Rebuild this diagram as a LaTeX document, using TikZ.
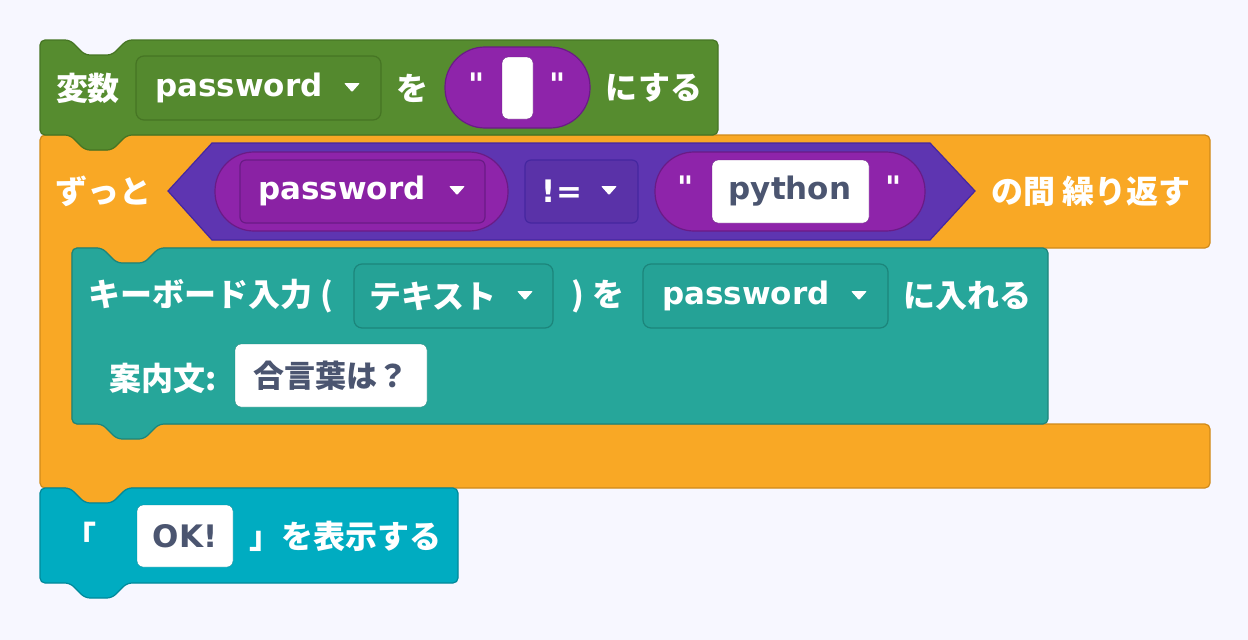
\documentclass[tikz,border=0pt]{standalone}
\usepackage{fontspec}
\setmainfont{Noto Sans CJK JP}
\newfontfamily\lat{DejaVu Sans}
\begin{document}
\begin{tikzpicture}[x=1pt,y=-1pt,
  lbl/.style={text=white,font=\fontsize{32}{34}\selectfont\bfseries,inner sep=0pt},
  wlbl/.style={text=txt,font=\fontsize{31}{34}\selectfont\bfseries,inner sep=0pt},
  ll/.style={lbl,font=\lat\fontsize{31}{34}\selectfont\bfseries},
  wll/.style={wlbl,font=\lat\fontsize{31}{34}\selectfont\bfseries}]
\definecolor{gr}{HTML}{568C2F}\definecolor{grd}{HTML}{467524}\definecolor{grb}{HTML}{54892E}
\definecolor{og}{HTML}{F9A825}\definecolor{ogd}{HTML}{D08A1A}
\definecolor{tl}{HTML}{26A69A}\definecolor{tld}{HTML}{1C857B}\definecolor{tlb}{HTML}{25A296}
\definecolor{cy}{HTML}{00ACC1}\definecolor{cyd}{HTML}{00899A}
\definecolor{pu}{HTML}{5E35B1}\definecolor{pud}{HTML}{4527A0}\definecolor{pub}{HTML}{5A32A8}
\definecolor{mg}{HTML}{8E24AA}\definecolor{mgd}{HTML}{6A1B86}\definecolor{mgb}{HTML}{8A22A4}
\definecolor{txt}{HTML}{4B5570}
\fill[white!97!blue] (0,0) rectangle (1248,640);
\useasboundingbox (0,0) rectangle (1248,640);
\newcommand\dd[2]{\fill[white,rounded corners=1] (#1-8,#2-4) -- (#1+8,#2-4) -- (#1,#2+5) -- cycle;}
% orange C
\draw[fill=og,draw=ogd,line width=1.2,rounded corners=5] (40,135) -- (70,135) -- (85,150) -- (112,150) -- (127,135) -- (1210,135) -- (1210,248) -- (159,248) -- (144,263) -- (117,263) -- (102,248) -- (72,248) -- (72,424) -- (1210,424) -- (1210,488) -- (127,488) -- (112,503) -- (85,503) -- (70,488) -- (40,488) -- cycle;
% green
\draw[fill=gr,draw=grd,line width=1.2,rounded corners=5] (40,40) -- (70,40) -- (85,55) -- (112,55) -- (127,40) -- (718,40) -- (718,135) -- (127,135) -- (112,150) -- (85,150) -- (70,135) -- (40,135) -- cycle;
% teal
\draw[fill=tl,draw=tld,line width=1.2,rounded corners=5] (72,248) -- (102,248) -- (117,263) -- (144,263) -- (159,248) -- (1048,248) -- (1048,424) -- (159,424) -- (144,439) -- (117,439) -- (102,424) -- (72,424) -- cycle;
% cyan
\draw[fill=cy,draw=cyd,line width=1.2,rounded corners=5] (40,488) -- (70,488) -- (85,503) -- (112,503) -- (127,488) -- (458,488) -- (458,583) -- (127,583) -- (112,598) -- (85,598) -- (70,583) -- (40,583) -- cycle;
% green content
\node[lbl] (v1) at (88,88) {変数};
\draw[fill=grb,draw=grd,line width=1.2,rounded corners=8] (136,56) rectangle (381,120);
\node[ll] (v2) at (239,88) {password}; \dd{352}{87}
\node[lbl] (v3) at (412,88) {を};
\draw[fill=mg,draw=mgd,line width=1.2,rounded corners=40] (445,47) rectangle (590,128);
\node[ll] (q1) at (477,84) {"}; \node[ll] (q2) at (558,84) {"};
\draw[fill=white,draw=mgd,rounded corners=6] (502,57) rectangle (533,119);
\node[lbl] (v4) at (654,88) {にする};
% orange content
\node[lbl] (o1) at (103,191) {ずっと};
\draw[fill=pu,draw=pud,line width=1.2] (168,191) -- (212,143) -- (930,143) -- (975,191) -- (930,240) -- (212,240) -- cycle;
\draw[fill=mg,draw=mgd,line width=1.2,rounded corners=39] (215,152) rectangle (508,231);
\draw[fill=mgb,draw=mgd,line width=1.2,rounded corners=6] (240,160) rectangle (485,223);
\node[ll] (p1) at (342,191) {password}; \dd{457}{190}
\draw[fill=pub,draw=pud,line width=1.2,rounded corners=6] (525,160) rectangle (638,223);
\node[ll] (p2) at (562,191) {!=}; \dd{609}{190}
\draw[fill=mg,draw=mgd,line width=1.2,rounded corners=39] (655,152) rectangle (925,231);
\node[ll] (q3) at (686,187) {"}; \node[ll] (q4) at (894,187) {"};
\draw[fill=white,draw=mgd,rounded corners=6] (712,160) rectangle (869,223);
\node[wll] (p3) at (790,191) {python};
\node[lbl] (o2) at (1091,191) {の間 繰り返す};
% teal content
\node[lbl] (t1) at (211,296) {キーボード入力 (};
\draw[fill=tlb,draw=tld,line width=1.2,rounded corners=8] (354,264) rectangle (553,328);
\node[lbl] (t2) at (433,296) {テキスト}; \dd{525}{295}
\node[lbl] (t3) at (598,296) {) を};
\draw[fill=tlb,draw=tld,line width=1.2,rounded corners=8] (643,264) rectangle (888,328);
\node[ll] (t4) at (746,296) {password}; \dd{859}{295}
\node[lbl] (t5) at (967,296) {に入れる};
\node[lbl] (t6) at (163,378) {案内文:};
\draw[fill=white,draw=tld,rounded corners=6] (235,344) rectangle (427,407);
\node[wlbl] (t7) at (331,376) {合言葉は？};
% cyan content
\node[lbl] (c1) at (80,536) {「};
\draw[fill=white,draw=cyd,rounded corners=6] (137,505) rectangle (233,567);
\node[wll] (c2) at (185,536) {OK!};
\node[lbl] (c3) at (345,536) {」を表示する};
\end{tikzpicture}
\end{document}
